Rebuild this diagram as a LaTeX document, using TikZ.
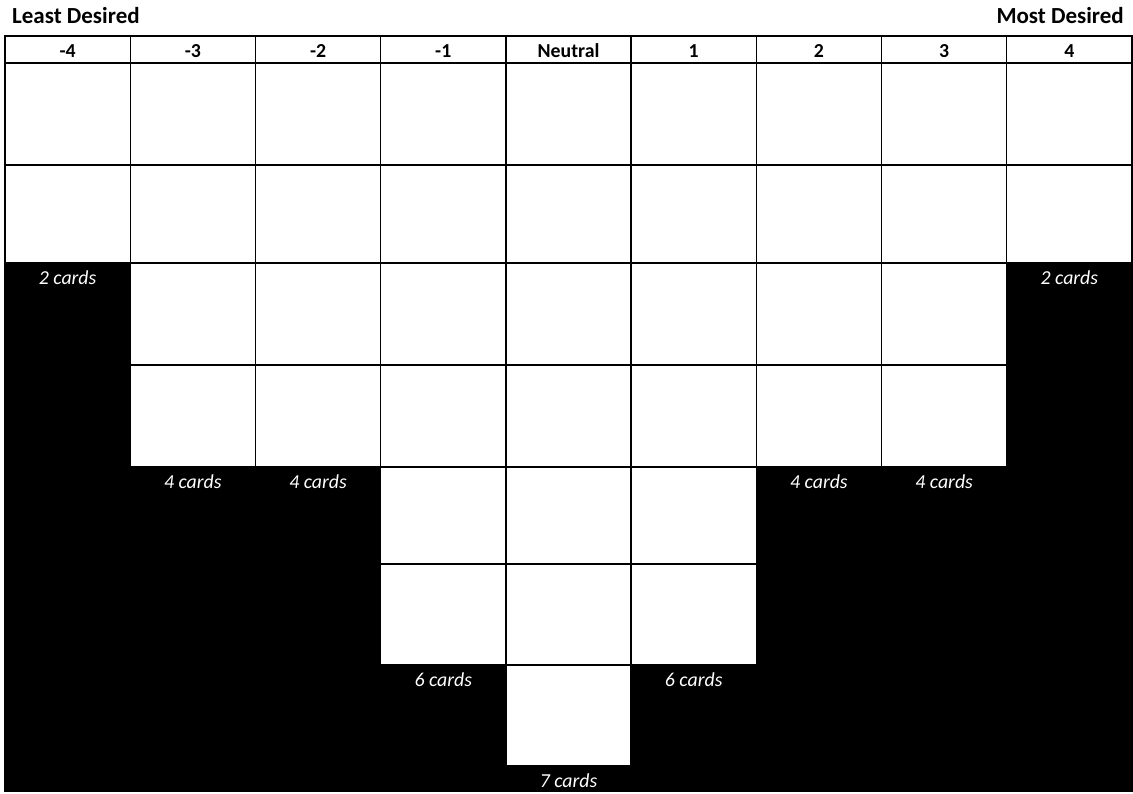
\documentclass[tikz,border=0pt]{standalone}
\usepackage{fontspec}
\setmainfont{Carlito}
\begin{document}
\begin{tikzpicture}[x=1pt,y=-1pt,
  gridline/.style={draw=black,line width=1.3pt},
  headtext/.style={font=\bfseries\fontsize{19.8}{23}\selectfont,inner sep=0pt},
  titletext/.style={font=\bfseries\fontsize{23}{27}\selectfont,inner sep=0pt},
  cardtext/.style={font=\itshape\fontsize{19.8}{23}\selectfont,text=white,inner sep=0pt}]
\useasboundingbox (0,0) rectangle (1133,793);
\fill[white] (0,0) rectangle (1133,793);
\def\cw{125.22}
\def\rows{{63,165,263,365,467,564,665,766}}
% black regions and white cells
\foreach \i/\n/\lab in {0/2/-4,1/4/-3,2/4/-2,3/6/-1,4/7/Neutral,5/6/1,6/4/2,7/4/3,8/2/4}{
  \pgfmathsetmacro{\xa}{5+\cw*\i}
  \pgfmathsetmacro{\xb}{5+\cw*(\i+1)}
  \pgfmathsetmacro{\yb}{\rows[\n]}
  \fill[black] (\xa,\yb) rectangle (\xb,791);
  \foreach \j in {1,...,\n}{
    \pgfmathsetmacro{\ya}{\rows[\j-1]}
    \pgfmathsetmacro{\yc}{\rows[\j]}
    \draw[gridline] (\xa,\ya) rectangle (\xb,\yc);
  }
  \draw[gridline] (\xa,36) rectangle (\xb,63);
  \node[headtext] (h\i) at ({(\xa+\xb)/2},51) {\lab};
  \node[cardtext] (c\i) at ({(\xa+\xb)/2},{\yb+15}) {\n\ cards};
}
\draw[gridline] (5,36) rectangle (1132,791);
\node[titletext,anchor=west] (least) at (12,16) {Least Desired};
\node[titletext,anchor=east] (most) at (1124,16) {Most Desired};
\end{tikzpicture}
\end{document}
